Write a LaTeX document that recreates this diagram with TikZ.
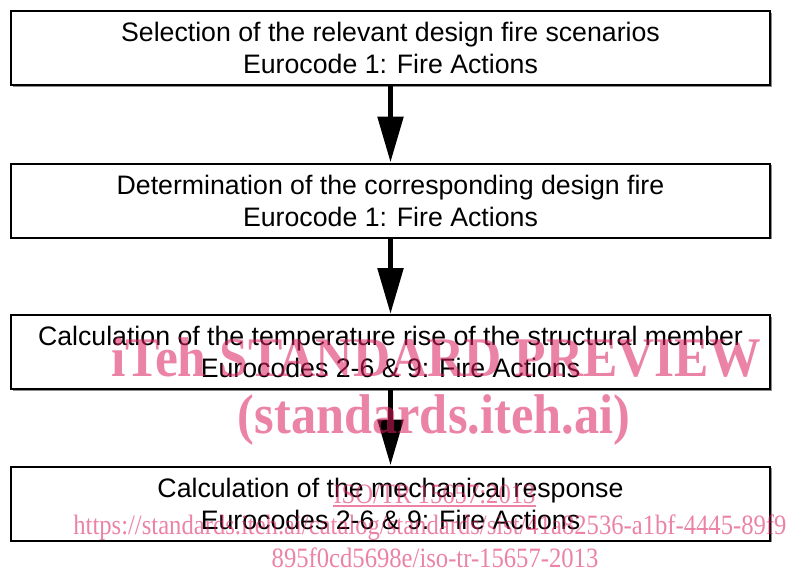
\documentclass[tikz,border=0pt]{standalone}
\usepackage{fontspec}
\setmainfont{Liberation Sans}
\newfontfamily\wmfont{Liberation Serif}
\usetikzlibrary{arrows.meta,shadows}
\definecolor{wmpink}{RGB}{220,30,95}
\newcommand{\wmbig}[2]{\scalebox{#1}[1]{\wmfont\bfseries\fontsize{56}{60}\selectfont #2}}
\newcommand{\wmsmall}[1]{\scalebox{0.88}[1]{\wmfont\fontsize{28}{30}\selectfont #1}}
\begin{document}
\begin{tikzpicture}[x=1pt,y=-1pt,
  stepbox/.style={draw=black, line width=2pt, fill=white, minimum width=759pt, minimum height=74pt,
    inner sep=0pt, align=center, font=\fontsize{26.7}{32}\selectfont,
    drop shadow={shadow xshift=1.5pt, shadow yshift=-1.5pt, fill=black!45, opacity=1}},
  flow/.style={line width=5.5pt, -{Triangle[length=46pt,width=25pt]}},
  wm/.style={text=wmpink, text opacity=0.55, inner sep=0pt, anchor=base}
]
\fill[white] (0,0) rectangle (786,574);
\useasboundingbox (0,0) rectangle (786,574);

\node[stepbox] (b1) at (390.5,48) {Selection of the relevant design fire scenarios\\Eurocode 1: Fire Actions};
\node[stepbox] (b2) at (390.5,200.5) {Determination of the corresponding design fire\\Eurocode 1: Fire Actions};
\node[stepbox] (b3) at (390.5,352) {Calculation of the temperature rise of the structural member\\Eurocodes 2-6 \& 9: Fire Actions};
\node[stepbox] (b4) at (390.5,503.5) {Calculation of the mechanical response\\Eurocodes 2-6 \& 9: Fire Actions};

\draw[flow] (b1) -- (b2);
\draw[flow] (b2) -- (b3);
\draw[flow] (b3) -- (b4);

% watermark
\node[wm] (w1) at (436,376) {\wmbig{0.92}{iTeh STANDARD PREVIEW}};
\node[wm] (w2) at (434,433) {\wmbig{0.9}{(standards.iteh.ai)}};
\node[wm] (w3) at (434.5,503) {\wmsmall{ISO/TR 15657:2013}};
\draw[wmpink, opacity=0.55, line width=1.3pt] ([yshift=-3pt]w3.base west) -- ([yshift=-3pt]w3.base east);
\node[wm] (w4) at (434,534) {\wmsmall{https://standards.iteh.ai/catalog/standards/sist/41a82536-a1bf-4445-89f9-}};
\node[wm] (w5) at (435,567) {\wmsmall{895f0cd5698e/iso-tr-15657-2013}};
\end{tikzpicture}
\end{document}
